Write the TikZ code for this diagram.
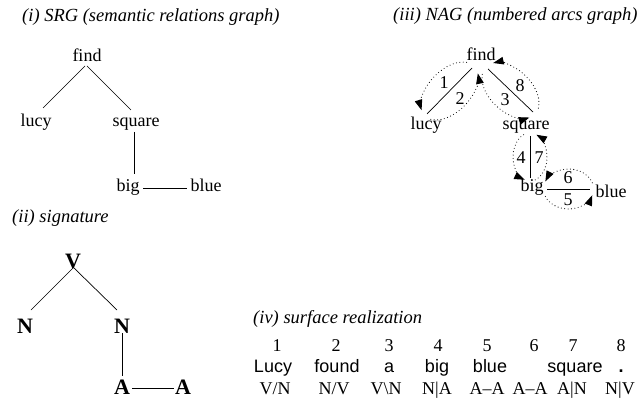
\documentclass[tikz,border=0pt]{standalone}
\usepackage{fontspec}
\setmainfont{Liberation Serif}
\newfontfamily\helv{Liberation Sans}
\usetikzlibrary{arrows.meta,calc}
\newcommand\dloop[5]{%
  \begin{scope}[shift={($(#1)!0.5!(#2)$)}, rotate=#3]
    \draw[dotarc] (-158:#4pt and #5pt) arc[start angle=-158,end angle=-18,x radius=#4pt,y radius=#5pt];
    \draw[dotarc] (18:#4pt and #5pt) arc[start angle=18,end angle=158,x radius=#4pt,y radius=#5pt];
  \end{scope}}
\begin{document}
\begin{tikzpicture}[x=1pt,y=1pt,
  lbl/.style={font=\fontsize{18pt}{21pt}\selectfont, inner sep=0pt, anchor=base},
  ttl/.style={font=\fontsize{18.5pt}{21pt}\selectfont\itshape, inner sep=0pt, anchor=base west},
  sig/.style={font=\fontsize{22pt}{26pt}\selectfont\bfseries, inner sep=0pt, anchor=base},
  wrd/.style={font=\fontsize{18pt}{21pt}\selectfont\helv, inner sep=0pt, anchor=base},
  num/.style={font=\fontsize{18pt}{21pt}\selectfont, inner sep=0pt},
  ln/.style={line width=0.7pt},
  dotarc/.style={line width=1.1pt, line cap=round, dash pattern=on 0pt off 3.4pt, -{Triangle[length=10.5pt,width=7.5pt]}},
]
\useasboundingbox (0,0) rectangle (639,399);
% (i) SRG
\node[ttl] (t1) at (22,377) {(i) SRG (semantic relations graph)};
\node[lbl] (find1) at (87,337) {find};
\node[lbl] (lucy1) at (36,272) {lucy};
\node[lbl] (square1) at (136,272) {square};
\node[lbl] (big1) at (128,207) {big};
\node[lbl] (blue1) at (206,207) {blue};
\draw[ln] ([xshift=-2pt,yshift=-4pt]find1.base) -- ([xshift=7pt,yshift=19pt]lucy1.base);
\draw[ln] ([yshift=-4pt]find1.base) -- ([xshift=-5pt,yshift=17pt]square1.base);
\draw[ln] ([xshift=-2pt,yshift=-5pt]square1.base) -- ([xshift=6pt,yshift=18pt]big1.base);
\draw[ln] ([xshift=15pt,yshift=4pt]big1.base) -- ([xshift=-19pt,yshift=4pt]blue1.base);
% (ii) signature
\node[ttl] (t2) at (12,176) {(ii) signature};
\node[sig] (V) at (73,131) {V};
\node[sig] (N1) at (25,66) {N};
\node[sig] (N2) at (122,66) {N};
\node[sig] (A1) at (122,5) {A};
\node[sig] (A2) at (183,5) {A};
\draw[ln] (V.base) -- ([xshift=6pt,yshift=23pt]N1.base);
\draw[ln] ([xshift=1pt]V.base) -- ([xshift=-5pt,yshift=23pt]N2.base);
\draw[ln] (N2.base) -- ([yshift=18pt]A1.base);
\draw[ln] ([xshift=10pt,yshift=6pt]A1.base) -- ([xshift=-9pt,yshift=6pt]A2.base);
% (iii) NAG
\node[ttl] (t3) at (393,378) {(iii) NAG (numbered arcs graph)};
\node[lbl] (find3) at (481,338) {find};
\node[lbl] (lucy3) at (426,269) {lucy};
\node[lbl] (square3) at (526,269) {square};
\node[lbl] (big3) at (532,207) {big};
\node[lbl] (blue3) at (611,201) {blue};
\coordinate (e1a) at ([xshift=-9pt,yshift=-7pt]find3.base);
\coordinate (e1b) at ([xshift=1pt,yshift=16pt]lucy3.base);
\coordinate (e2a) at ([xshift=7pt,yshift=-8pt]find3.base);
\coordinate (e2b) at ([xshift=7pt,yshift=18pt]square3.base);
\coordinate (e3a) at ([xshift=4pt,yshift=-6pt]square3.base);
\coordinate (e3b) at ([xshift=-2pt,yshift=14pt]big3.base);
\coordinate (e4a) at ([xshift=15pt,yshift=3pt]big3.base);
\coordinate (e4b) at ([xshift=-21pt,yshift=9pt]blue3.base);
\draw[ln] (e1a) -- (e1b);
\draw[ln] (e2a) -- (e2b);
\draw[ln] (e3a) -- (e3b);
\draw[ln] (e4a) -- (e4b);
\dloop{e1a}{e1b}{-134.4}{35}{21}
\dloop{e2a}{e2b}{-43.7}{34}{21}
\dloop{e3a}{e3b}{-90}{24}{17}
\dloop{e4a}{e4b}{0}{25}{20}
\node[num] (l1) at (444,316) {1};
\node[num] (l2) at (460,300) {2};
\node[num] (l3) at (505,299) {3};
\node[num] (l8) at (520,313) {8};
\node[num] (l4) at (521,241) {4};
\node[num] (l7) at (539,241) {7};
\node[num] (l6) at (568,221) {6};
\node[num] (l5) at (568,199) {5};
% (iv) surface realization
\node[ttl] (t4) at (253,76) {(iv) surface realization};
\node[lbl] (n1) at (277,48) {1};
\node[lbl] (n2) at (336,48) {2};
\node[lbl] (n3) at (389,48) {3};
\node[lbl] (n4) at (438,48) {4};
\node[lbl] (n5) at (487,48) {5};
\node[lbl] (n6) at (534,48) {6};
\node[lbl] (n7) at (573,48) {7};
\node[lbl] (n8) at (621,48) {8};
\node[wrd] (w1) at (273,27) {Lucy};
\node[wrd] (w2) at (337,27) {found};
\node[wrd] (w3) at (389,27) {a};
\node[wrd] (w4) at (437,27) {big};
\node[wrd] (w5) at (490,27) {blue};
\node[wrd] (w7) at (575,27) {square};
\node[wrd,font=\fontsize{18pt}{21pt}\selectfont\helv\bfseries] (w8) at (621,27) {.};
\node[lbl] (c1) at (275,5) {V/N};
\node[lbl] (c2) at (334,5) {N/V};
\node[lbl] (c3) at (386,5) {V\textbackslash N};
\node[lbl] (c4) at (437,5) {N|A};
\node[lbl] (c5) at (487,5) {A--A};
\node[lbl] (c6) at (530,5) {A--A};
\node[lbl] (c7) at (572,5) {A|N};
\node[lbl] (c8) at (620,5) {N|V};
\end{tikzpicture}
\end{document}
